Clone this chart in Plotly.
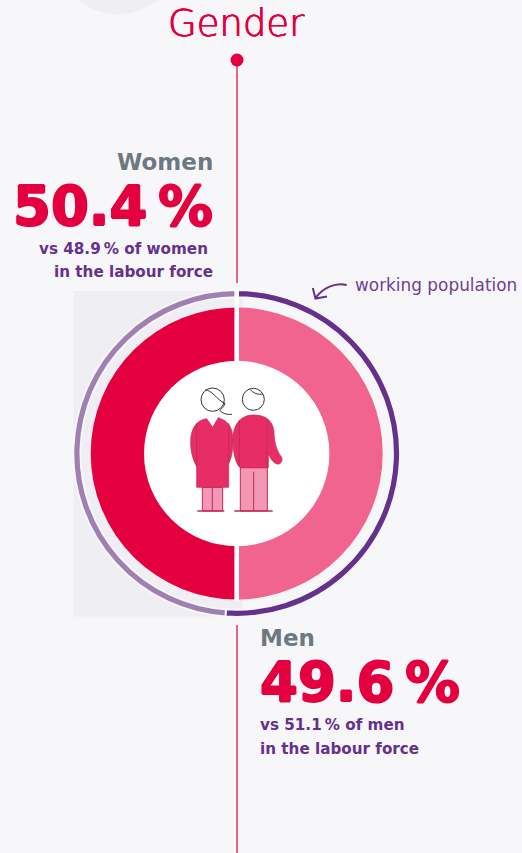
import re
import plotly.graph_objects as go

# ---- data ----
groups = ["Men", "Women"]
population_share = [49.6, 50.4]
labour_force_share = [51.1, 48.9]
title_text = "Gender"
ring_label = "working population"

BG = "#f7f7fa"
RED = "#e4003f"
PINK = "#f0648f"
DARK = "#65318a"
LIGHT = "#9f80b1"
COAT = "#e82c65"
LEG = "#f497b5"
EDGE = "#c02a5c"
W, H = 522, 853
FONT = "DejaVu Sans"
THICK = "1px 0 0 #e4003f, -1px 0 0 #e4003f, 0 1px 0 #e4003f, 0 -1px 0 #e4003f"
THIN = "0.4px 0 0 #e4003f, -0.4px 0 0 #e4003f, 0 0.4px 0 #e4003f"


def dom(cx, cy, r):
    return dict(x=[(cx - r) / W, (cx + r) / W], y=[1 - (cy + r) / H, 1 - (cy - r) / H])


def z(path):
    """icon path, drawn in a local grid of 1/3 px"""
    out, nums = [], 0
    for tok in path.split():
        if re.match(r"^[A-Za-z]$", tok):
            out.append(tok)
            nums = 0
        else:
            v = float(tok)
            out.append(f"{(170 + v / 3 if nums % 2 == 0 else 370 + v / 3):.2f}")
            nums += 1
    return " ".join(out)


CX, CY = 236.7, 453.5
# turn the inner donut so its split sits level on the vertical gap at top and bottom
inner_rotation = (50 - population_share[0]) / 100 * 360 / 2
fig = go.Figure()
fig.add_trace(go.Pie(labels=groups, values=population_share, sort=False, direction="clockwise",
                     rotation=inner_rotation, hole=92.7 / 146, domain=dom(CX, CY, 146), textinfo="none",
                     hoverinfo="label+value", showlegend=False,
                     marker=dict(colors=[PINK, RED], line=dict(width=0))))
fig.add_trace(go.Pie(labels=groups, values=labour_force_share, sort=False, direction="clockwise",
                     rotation=0, hole=156.2 / 163.4, domain=dom(CX, CY, 163.4), textinfo="none",
                     hoverinfo="label+value", showlegend=False,
                     marker=dict(colors=[DARK, LIGHT], line=dict(width=2, color=BG))))
fig.add_trace(go.Scatter(x=[237], y=[60], mode="markers", hoverinfo="skip", showlegend=False, cliponaxis=False,
                         marker=dict(size=13, color=RED)))

shapes = []


def add(**k):
    k.setdefault("xref", "x")
    k.setdefault("yref", "y")
    shapes.append(k)


# backdrop
add(type="circle", x0=54, x1=182, y0=-114, y1=14, fillcolor="#efeff2", line_width=0, layer="below")
add(type="rect", x0=73.5, x1=243, y0=291, y1=616.5, fillcolor="#eeeef3", line_width=0, layer="below")
add(type="circle", x0=CX - 93, x1=CX + 93, y0=CY - 93, y1=CY + 93, fillcolor="white", line_width=0, layer="below")
add(type="line", x0=237, x1=237, y0=60, y1=283, line=dict(color="#e9648c", width=2), layer="below")
add(type="line", x0=237, x1=237, y0=625, y1=853, line=dict(color="#e9648c", width=2), layer="below")
# split between the halves
add(type="rect", x0=234.4, x1=239, y0=287, y1=600.5, fillcolor="white", line_width=0)
# arrow
add(type="path", path="M 346.7 285 C 335 282 323 288 315.5 298", line=dict(color=DARK, width=2))
add(type="path", path="M 312.8 288 L 315.5 298.5 L 327 296.5", line=dict(color=DARK, width=2))

# woman
add(type="rect", x0=170 + 97 / 3, x1=170 + 158 / 3, y0=370 + 352 / 3, y1=370 + 423 / 3, fillcolor=LEG,
    line=dict(color=EDGE, width=1))
add(type="path", path=z("M 127 352 L 127 423"), line=dict(color=EDGE, width=1))
add(type="path", path=z("M 82 423 L 163 423"), line=dict(color=EDGE, width=1.5))
add(type="path", path=z("M 110 146 C 80 150 62 175 62 215 C 62 250 70 270 80 290 L 80 352 L 176 352 "
                        "L 176 280 C 188 260 192 215 186 185 C 180 160 165 150 145 143 L 128 172 Z"),
    fillcolor=COAT, line=dict(color=EDGE, width=0.7))
add(type="path", path=z("M 80 160 L 80 290"), line=dict(color=EDGE, width=1))
add(type="path", path=z("M 176 160 L 176 280"), line=dict(color=EDGE, width=1))
add(type="circle", x0=170 + 93 / 3, x1=170 + 163 / 3, y0=370 + 54 / 3, y1=370 + 124 / 3, fillcolor="white",
    line=dict(color="#333333", width=1))
add(type="path", path=z("M 105 60 C 125 58 140 90 165 100 C 160 115 150 118 150 122 C 160 132 172 134 186 133"),
    line=dict(color="#333333", width=1))

# man
add(type="rect", x0=170 + 211 / 3, x1=170 + 292 / 3, y0=370 + 293 / 3, y1=370 + 423 / 3, fillcolor=LEG,
    line=dict(color=EDGE, width=1))
add(type="path", path=z("M 251 305 L 251 423"), line=dict(color=EDGE, width=1))
add(type="path", path=z("M 193 423 L 308 423"), line=dict(color=EDGE, width=1.5))
add(type="path", path=z("M 250 135 C 215 135 190 160 189 205 C 188 240 195 280 210 293 L 295 293 L 295 250 "
                        "C 302 270 315 285 327 282 C 338 278 338 265 332 258 C 320 240 312 215 312 185 "
                        "C 308 150 285 135 250 135 Z"),
    fillcolor=COAT, line=dict(color=EDGE, width=0.7))
add(type="path", path=z("M 208 150 L 208 290"), line=dict(color=EDGE, width=1))
add(type="path", path=z("M 291 150 L 291 290"), line=dict(color=EDGE, width=1))
add(type="circle", x0=170 + 217 / 3, x1=170 + 283 / 3, y0=370 + 55 / 3, y1=370 + 121 / 3, fillcolor="white",
    line=dict(color="#333333", width=1))
add(type="path", path=z("M 240 58 C 250 70 265 75 278 72"), line=dict(color="#333333", width=1))


def txt(s, x, y, size, color, anchor="left", weight=700, family=FONT, shadow=None):
    f = dict(family=family, size=size, color=color, weight=weight)
    if shadow:
        f["shadow"] = shadow
    return dict(text=s, x=x, y=y, xref="x", yref="y", xanchor=anchor, yanchor="middle", showarrow=False, font=f)


ann = [
    txt(title_text, 236.5, 23, 37, RED, "center", 200, FONT, THIN),
    txt(groups[1], 215, 162, 23, "#6d7880", "right"),
    txt(f"{population_share[1]}\u2009%", 215, 206, 54.5, RED, "right", 700, FONT, THICK),
    txt(f"vs {labour_force_share[1]}\u2009% of women", 210, 249, 15.2, DARK, "right"),
    txt("in the labour force", 215, 272, 15.2, DARK, "right"),
    txt(ring_label, 353, 285, 16.9, "#6f3f91", "left", 400),
    txt(groups[0], 258, 638, 23, "#6d7880"),
    txt(f"{population_share[0]}\u2009%", 258, 682, 54.5, RED, "left", 700, FONT, THICK),
    txt(f"vs {labour_force_share[0]}\u2009% of men", 258, 725, 15.2, DARK),
    txt("in the labour force", 258, 749, 15.2, DARK),
]

fig.update_layout(
    width=W, height=H, autosize=False, margin=dict(l=0, r=0, t=0, b=0),
    paper_bgcolor=BG, plot_bgcolor=BG, shapes=shapes, annotations=ann,
    xaxis=dict(range=[0, W], visible=False, fixedrange=True),
    yaxis=dict(range=[H, 0], visible=False, fixedrange=True),
)
fig.write_html("out.html", config=dict(displayModeBar=False),
               post_script="document.body.style.margin='0';document.body.style.background='#f7f7fa';")
